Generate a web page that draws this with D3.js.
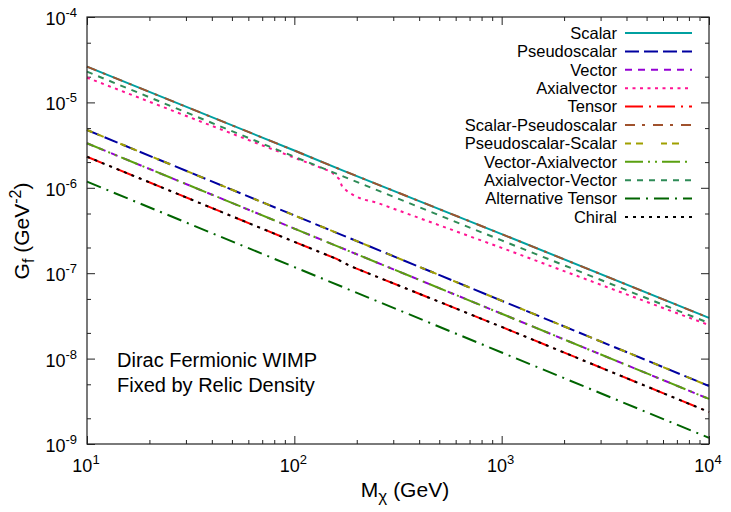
<!DOCTYPE html>
<html>
<head>
<meta charset="utf-8">
<script src="https://cdn.jsdelivr.net/npm/d3@7"></script>
<style>
  body { margin: 0; background: #fff; }
  svg text { font-family: "Liberation Sans", Arial, Helvetica, sans-serif; fill: #000; }
</style>
</head>
<body>
<svg id="chart" width="731" height="512"></svg>
<script>
'use strict';

// ---- data ----
let massAxis = [10, 100, 1000, 10000];
let scalarM = [10, 100, 173, 1000, 10000];
let scalarG = [2.62e-5, 2.73e-6, 1.58e-6, 2.87e-7, 3.0e-8];
let pseudoM = [10, 100, 1000, 10000];
let pseudoG = [4.75e-6, 4.75e-7, 4.76e-8, 4.78e-9];
let vectorM = [10, 100, 1000, 10000];
let vectorG = [3.32e-6, 3.33e-7, 3.35e-8, 3.37e-9];
let axialM = [10, 100, 150, 165, 170, 182, 196, 215, 250, 1000, 10000];
let axialG = [1.95e-5, 2.25e-6, 1.55e-6, 1.26e-6, 1.03e-6, 8.9e-7, 8.0e-7, 7.3e-7, 6.7e-7, 1.98e-7, 2.47e-8];
let tensorM = [10, 100, 160, 185, 1000, 10000];
let tensorG = [2.31e-6, 2.33e-7, 1.47e-7, 1.22e-7, 2.35e-8, 2.37e-9];
let avM = [10, 100, 1000, 10000];
let avG = [2.29e-5, 2.31e-6, 2.42e-7, 2.61e-8];
let altTensorM = [10, 100, 1000, 10000];
let altTensorG = [1.18e-6, 1.18e-7, 1.18e-8, 1.18e-9];

let yMajor = [1e-9, 1e-8, 1e-7, 1e-6, 1e-5, 1e-4];
let yExp = ["-9", "-8", "-7", "-6", "-5", "-4"];
let xExp = ["1", "2", "3", "4"];

let seriesNames = ["Scalar", "Pseudoscalar", "Vector", "Axialvector", "Tensor",
    "Scalar-Pseudoscalar", "Pseudoscalar-Scalar", "Vector-Axialvector",
    "Axialvector-Vector", "Alternative Tensor", "Chiral"];
let seriesColors = ["#00a0a0", "#0000a0", "#9400d3", "#ff1493", "#ff0000",
    "#a0522d", "#a0a000", "#5aa010", "#2e8b57", "#006400", "#000000"];
let seriesDash = [null, "14,5", "7,6", "3,4.5", "18,6,2,6",
    "10,7,3,8", "6,5,7,18", "18,5,2,5,2,5", "6,6", "15,6,2,6", "3,5"];
let seriesData = [
    [scalarM, scalarG], [pseudoM, pseudoG], [vectorM, vectorG], [axialM, axialG],
    [tensorM, tensorG], [scalarM, scalarG], [pseudoM, pseudoG], [vectorM, vectorG],
    [avM, avG], [altTensorM, altTensorG], [tensorM, tensorG]
];

// ---- layout ----
let svg = d3.select("#chart");
let pLeft = 87, pRight = 709, pTop = 17, pBottom = 444;

let x = d3.scaleLog().domain([10, 10000]).range([pLeft, pRight]);
let y = d3.scaleLog().domain([1e-9, 1e-4]).range([pBottom, pTop]);

let xMinor = [];
let yMinor = [];
[10, 100, 1000].forEach(function(d) {
    for (let k = 2; k <= 9; k++) xMinor.push(d * k);
});
[1e-9, 1e-8, 1e-7, 1e-6, 1e-5].forEach(function(d) {
    yMinor.push(d * 2, d * 5);
});

// ticks, all pointing inward, mirrored on the top and right
function tickAxis(gen, vals, size, tx, ty) {
    let g = svg.append("g")
        .attr("transform", "translate(" + tx + "," + ty + ")")
        .call(gen.tickValues(vals).tickSize(-size).tickFormat(""));
    g.select(".domain").remove();
    g.selectAll("line").attr("stroke", "#222").attr("stroke-width", 1);
}
tickAxis(d3.axisBottom(x), massAxis, 8, 0, pBottom);
tickAxis(d3.axisBottom(x), xMinor, 4, 0, pBottom);
tickAxis(d3.axisTop(x), massAxis, 8, 0, pTop);
tickAxis(d3.axisTop(x), xMinor, 4, 0, pTop);
tickAxis(d3.axisLeft(y), yMajor, 8, pLeft, 0);
tickAxis(d3.axisLeft(y), yMinor, 4, pLeft, 0);
tickAxis(d3.axisRight(y), yMajor, 8, pRight, 0);
tickAxis(d3.axisRight(y), yMinor, 4, pRight, 0);

// tick labels with superscripts
massAxis.forEach(function(v, i) {
    let t = svg.append("text")
        .attr("x", x(v) - 1)
        .attr("y", 472)
        .attr("text-anchor", "middle")
        .style("font-size", "18px");
    t.append("tspan").text("10");
    t.append("tspan").attr("dy", -8).style("font-size", "13px").text(xExp[i]);
});
yMajor.forEach(function(v, i) {
    let t = svg.append("text")
        .attr("x", 77)
        .attr("y", y(v) + 8)
        .attr("text-anchor", "end")
        .style("font-size", "18px");
    t.append("tspan").text("10");
    t.append("tspan").attr("dy", -8).style("font-size", "13px").text(yExp[i]);
});

// axis titles
let xt = svg.append("text")
    .attr("x", 405)
    .attr("y", 497)
    .attr("text-anchor", "middle")
    .style("font-size", "21px");
xt.append("tspan").text("M");
xt.append("tspan").attr("dy", 5).style("font-size", "17px").text("χ");
xt.append("tspan").attr("dy", -5).text(" (GeV)");

let yt = svg.append("text")
    .attr("transform", "translate(29,231) rotate(-90)")
    .attr("text-anchor", "middle")
    .style("font-size", "21px");
yt.append("tspan").text("G");
yt.append("tspan").attr("dy", 5).style("font-size", "16px").text("f");
yt.append("tspan").attr("dy", -5).text(" (GeV");
yt.append("tspan").attr("dy", -8).style("font-size", "16px").text("-2");
yt.append("tspan").attr("dy", 8).text(")");

// curves
let line = d3.line()
    .x(function(d) { return x(d[0]); })
    .y(function(d) { return y(d[1]); });

let plot = svg.append("g");
seriesData.forEach(function(s, i) {
    let pts = s[0].map(function(m, j) { return [m, s[1][j]]; });
    plot.append("path")
        .datum(pts)
        .attr("d", line)
        .attr("fill", "none")
        .attr("stroke", seriesColors[i])
        .attr("stroke-width", 2)
        .attr("stroke-dasharray", seriesDash[i]);
});

// legend
let legend = svg.append("g");
seriesNames.forEach(function(name, i) {
    let ly = 33 + i * 18.4;
    legend.append("text")
        .attr("x", 617)
        .attr("y", ly + 5.7)
        .attr("text-anchor", "end")
        .style("font-size", "16.5px")
        .text(name);
    legend.append("line")
        .attr("x1", 625).attr("x2", 692)
        .attr("y1", ly).attr("y2", ly)
        .attr("stroke", seriesColors[i])
        .attr("stroke-width", 2)
        .attr("stroke-dasharray", seriesDash[i]);
});

// annotation
svg.append("text").attr("x", 117).attr("y", 367).style("font-size", "20px")
    .text("Dirac Fermionic WIMP");
svg.append("text").attr("x", 117).attr("y", 392).style("font-size", "20px")
    .text("Fixed by Relic Density");

// frame
svg.append("rect")
    .attr("x", pLeft).attr("y", pTop)
    .attr("width", pRight - pLeft).attr("height", pBottom - pTop)
    .attr("fill", "none")
    .attr("stroke", "#222")
    .attr("stroke-width", 1.2);
</script>
</body>
</html>
